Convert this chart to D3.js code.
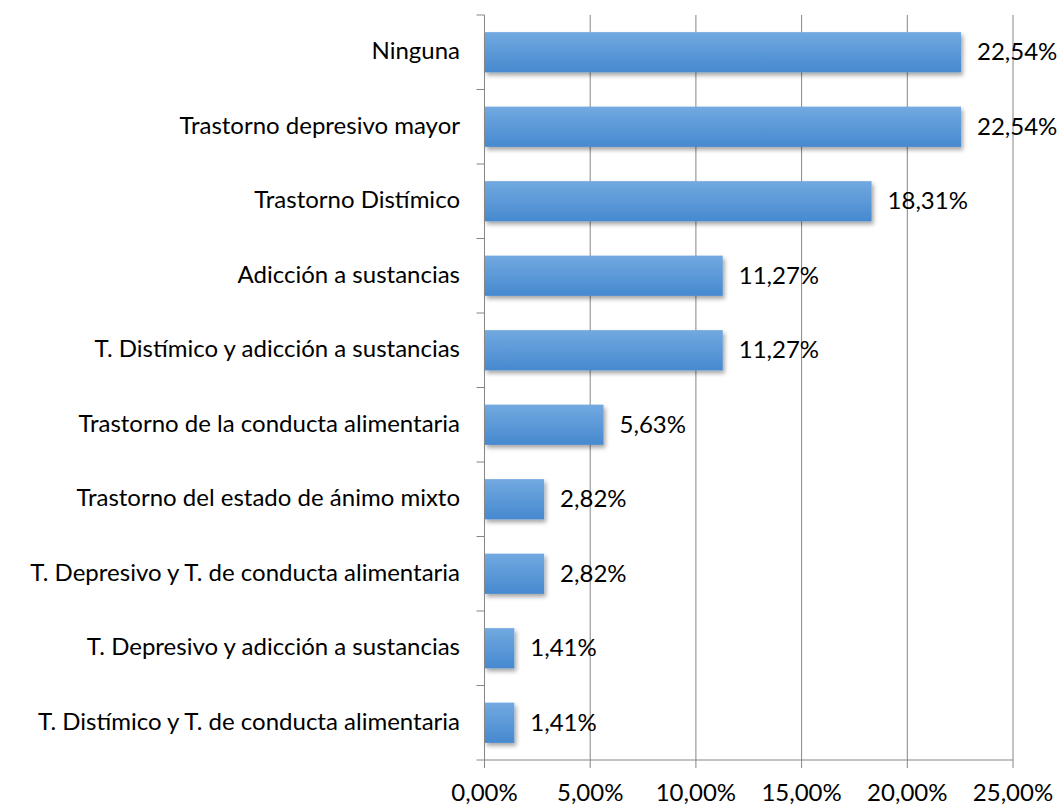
<!DOCTYPE html>
<html lang="es">
<head>
<meta charset="UTF-8">
<title>Trastornos</title>
<script src="https://d3js.org/d3.v7.min.js"></script>
<style>
  body { margin: 0; background: #fff; }
  svg text { font-family: Lato, "Open Sans", sans-serif; fill: #000; }
</style>
</head>
<body>
<div id="chart"></div>
<script>
// data
var categories = [
  "Ninguna",
  "Trastorno depresivo mayor",
  "Trastorno Distímico",
  "Adicción a sustancias",
  "T. Distímico y adicción a sustancias",
  "Trastorno de la conducta alimentaria",
  "Trastorno del estado de ánimo mixto",
  "T. Depresivo y T. de conducta alimentaria",
  "T. Depresivo y adicción a sustancias",
  "T. Distímico y T. de conducta alimentaria"
];
var values = [22.54, 22.54, 18.31, 11.27, 11.27, 5.63, 2.82, 2.82, 1.41, 1.41];
var xTicks = [0, 5, 10, 15, 20, 25];

var W = 1059, H = 807;
var plotL = 484.5, plotR = 1013, plotT = 15, plotB = 760;
var fontSize = 24;

var svg = d3.select("#chart").append("svg")
    .attr("width", W)
    .attr("height", H);

var defs = svg.append("defs");
var grad = defs.append("linearGradient")
    .attr("id", "barGrad")
    .attr("x1", 0).attr("y1", 0).attr("x2", 0).attr("y2", 1);
grad.append("stop").attr("offset", "0%").attr("stop-color", "#72a9e0");
grad.append("stop").attr("offset", "100%").attr("stop-color", "#4689cf");

var shadow = defs.append("filter").attr("id", "shadow")
    .attr("x", "-10%").attr("y", "-20%").attr("width", "130%").attr("height", "160%");
shadow.append("feDropShadow")
    .attr("dx", 2).attr("dy", 3).attr("stdDeviation", 2)
    .attr("flood-color", "#000").attr("flood-opacity", 0.35);

function fmt(v) {
  return v.toFixed(2).replace(".", ",") + "%";
}

var x = d3.scaleLinear().domain([0, 25]).range([plotL, plotR]);
var y = d3.scaleBand().domain(categories).range([plotT, plotB]).paddingInner(0.46).paddingOuter(0.23);

// grid
svg.append("g").selectAll("line")
    .data(xTicks.slice(1))
    .join("line")
    .attr("x1", d => x(d)).attr("x2", d => x(d))
    .attr("y1", plotT).attr("y2", plotB)
    .attr("stroke", "#868686").attr("stroke-width", 1);

// bars
svg.append("g").selectAll("rect")
    .data(values)
    .join("rect")
    .attr("x", x(0))
    .attr("y", (d, i) => y(categories[i]))
    .attr("width", d => x(d) - x(0))
    .attr("height", y.bandwidth())
    .attr("fill", "url(#barGrad)")
    .attr("filter", "url(#shadow)");

// value labels
svg.append("g").selectAll("text")
    .data(values)
    .join("text")
    .attr("x", d => x(d) + 16)
    .attr("y", (d, i) => y(categories[i]) + y.bandwidth() / 2)
    .attr("dy", "0.33em")
    .attr("font-size", fontSize)
    .text(d => fmt(d));

// y axis
var yAxisLine = d3.scaleLinear().domain([0, categories.length]).range([plotT, plotB]);
var yg = svg.append("g");
yg.append("line")
    .attr("x1", plotL).attr("x2", plotL).attr("y1", plotT).attr("y2", plotB)
    .attr("stroke", "#868686");
yg.selectAll("line.tk")
    .data(d3.range(categories.length + 1))
    .join("line").attr("class", "tk")
    .attr("x1", plotL - 8).attr("x2", plotL)
    .attr("y1", d => yAxisLine(d)).attr("y2", d => yAxisLine(d))
    .attr("stroke", "#868686");
yg.selectAll("text")
    .data(categories)
    .join("text")
    .attr("x", 460)
    .attr("y", d => y(d) + y.bandwidth() / 2)
    .attr("dy", "0.3em")
    .attr("text-anchor", "end")
    .attr("font-size", fontSize)
    .text(d => d);

// x axis
var xg = svg.append("g");
xg.append("line")
    .attr("x1", plotL).attr("x2", plotR).attr("y1", plotB).attr("y2", plotB)
    .attr("stroke", "#868686");
xg.selectAll("line.tk")
    .data(xTicks)
    .join("line").attr("class", "tk")
    .attr("x1", d => x(d)).attr("x2", d => x(d))
    .attr("y1", plotB).attr("y2", plotB + 8)
    .attr("stroke", "#868686");
xg.selectAll("text")
    .data(xTicks)
    .join("text")
    .attr("x", d => x(d))
    .attr("y", 801)
    .attr("text-anchor", "middle")
    .attr("font-size", fontSize)
    .text(d => fmt(d));
</script>
</body>
</html>
